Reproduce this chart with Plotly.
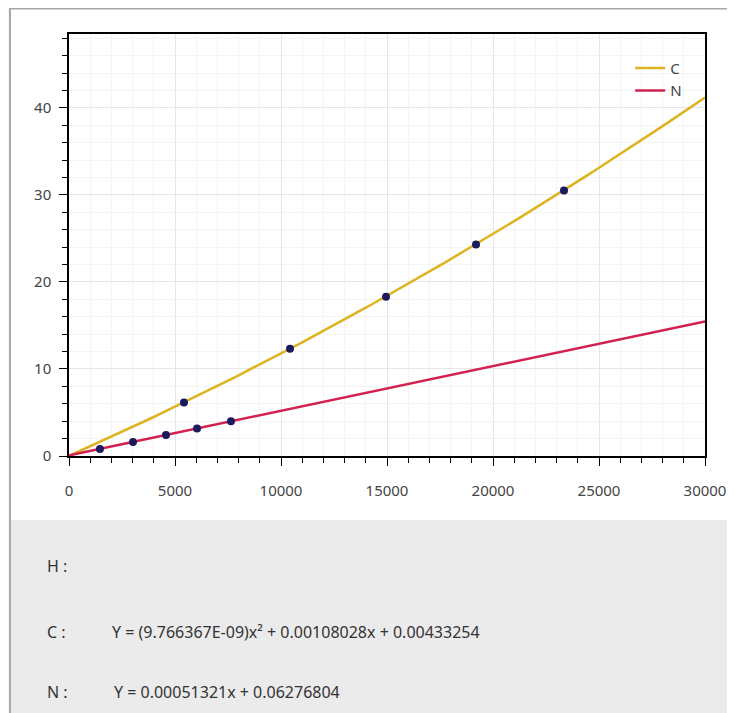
import numpy as np
import plotly.graph_objects as go

# ---- data ----
c_x = [5424, 10425, 14953, 19198, 23349]
c_y = [6.15, 12.33, 18.3, 24.3, 30.5]
n_x = [1460, 3020, 4575, 6040, 7640]
n_y = [0.81, 1.61, 2.41, 3.16, 3.98]

# fit coefficients shown in the chart
c_coef = [9.766367e-09, 0.00108028, 0.00433254]   # a x^2 + b x + c
n_coef = [0.00051321, 0.06276804]                  # m x + k

x_min, x_max = 0, 30000
y_max = 48.5

fit_x = np.linspace(x_min, x_max, 121)
c_fit = c_coef[0] * fit_x ** 2 + c_coef[1] * fit_x + c_coef[2]
n_fit = n_coef[0] * fit_x + n_coef[1]
fit_x0 = np.concatenate([[0], fit_x])
c_fit0 = np.concatenate([[0], c_fit])
n_fit0 = np.concatenate([[0], n_fit])

eq_labels = ["H :", "C :", "N :"]
eq_texts = ["", "Y = (9.766367E-09)x\u00b2 + 0.00108028x + 0.00433254",
            "Y = 0.00051321x + 0.06276804"]

C_COL = "#DDB320"
N_COL = "#D2204F"
PT_COL = "#1C1A5E"
TXT = "#333333"

fig = go.Figure()
fig.add_trace(go.Scatter(x=fit_x0, y=c_fit0, mode="lines", name="C",
                         line=dict(color=C_COL, width=2.5)))
fig.add_trace(go.Scatter(x=fit_x0, y=n_fit0, mode="lines", name="N",
                         line=dict(color=N_COL, width=2.5)))
fig.add_trace(go.Scatter(x=c_x, y=c_y, mode="markers", showlegend=False,
                         marker=dict(color=PT_COL, size=8)))
fig.add_trace(go.Scatter(x=n_x, y=n_y, mode="markers", showlegend=False,
                         marker=dict(color=PT_COL, size=8)))

# page offset (body margin) in screen pixels
OFF = 8
W, H = 735, 713
# plot area on screen: x 69..705, y 34..456
L = 69 - OFF
T = 34 - OFF
R = W - (705 - OFF)
B = H - (456 - OFF)
pw, ph = W - L - R, H - T - B


def px(xs):
    return (xs - OFF - L) / pw


def py(ys):
    return (H - B - (ys - OFF)) / ph


shapes = [
    dict(type="rect", xref="paper", yref="paper", layer="below",
         x0=px(10), x1=px(760), y0=py(740), y1=py(8.5),
         fillcolor="white", line=dict(color="#A8A8A8", width=2)),
    dict(type="rect", xref="paper", yref="paper", layer="below",
         x0=px(11), x1=px(760), y0=py(740), y1=py(520),
         fillcolor="#EBEBEB", line=dict(width=0)),
]

annotations = []
label_ys = [566, 632, 692]
eq_xs = [110, 110, 112]
for lab, txt, yy, ex in zip(eq_labels, eq_texts, label_ys, eq_xs):
    annotations.append(dict(xref="paper", yref="paper", x=px(45), y=py(yy),
                            text=lab, showarrow=False, xanchor="left",
                            yanchor="middle",
                            font=dict(size=16, color=TXT)))
    if txt:
        annotations.append(dict(xref="paper", yref="paper", x=px(ex), y=py(yy),
                                text=txt, showarrow=False, xanchor="left",
                                yanchor="middle",
                                font=dict(size=16, color=TXT)))

axis_common = dict(
    showline=True, linecolor="black", linewidth=1.5, mirror=True,
    ticks="outside", ticklen=8, tickwidth=1.2, tickcolor="black",
    showgrid=True, gridcolor="#E6E6E6", gridwidth=1, zeroline=False,
    tickfont=dict(size=15, color="#444444"),
)

fig.update_layout(
    width=W, height=H,
    margin=dict(l=L, r=R, t=T, b=B),
    paper_bgcolor="#F7F7F7", plot_bgcolor="white",
    font=dict(family="Noto Sans, Open Sans, sans-serif"),
    shapes=shapes, annotations=annotations,
    legend=dict(x=0.972, y=0.958, xanchor="right", yanchor="top",
                bgcolor="rgba(0,0,0,0)", font=dict(size=15, color="#444444"),
                itemwidth=30, tracegroupgap=0),
    xaxis=dict(range=[x_min, x_max], dtick=5000, tick0=0, tickformat="d",
               minor=dict(dtick=1000, ticks="outside", ticklen=5,
                          tickcolor="black", showgrid=True,
                          gridcolor="#F4F4F4"),
               ticklabelstandoff=12, **axis_common),
    yaxis=dict(range=[0, y_max], dtick=10, tick0=0,
               minor=dict(dtick=2, ticks="outside", ticklen=5,
                          tickcolor="black", showgrid=True,
                          gridcolor="#F4F4F4"),
               ticklabelstandoff=5, **axis_common),
)

fig.write_html("out.html")
